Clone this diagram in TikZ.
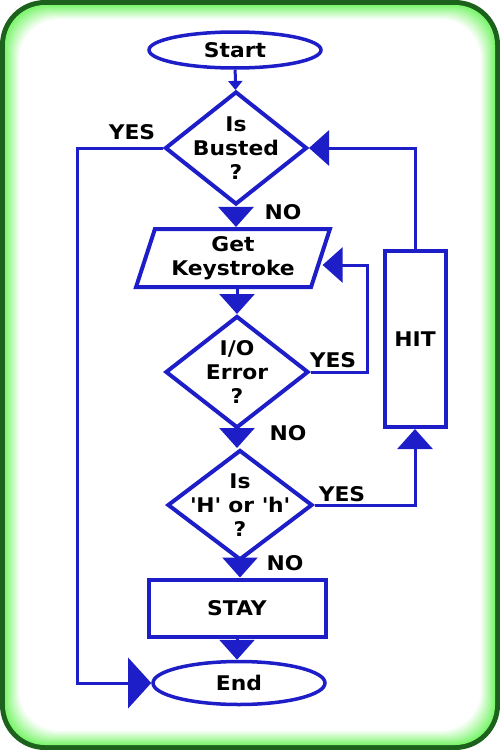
\documentclass[tikz,border=0pt]{standalone}
\usepackage{fontspec}
\setmainfont{DejaVu Sans}[FakeStretch=1.08]
\usetikzlibrary{arrows.meta,shapes.geometric}
\definecolor{fcblue}{RGB}{30,30,200}
\definecolor{framedark}{RGB}{28,98,28}
\definecolor{framelight}{RGB}{125,245,110}

\begin{document}
\begin{tikzpicture}[
    x=0.2mm, y=-0.2mm,
    every node/.style={font=\fontsize{11.5}{13.6}\selectfont\bfseries, text=black},
    term/.style={ellipse, draw=fcblue, line width=0.7mm, inner sep=0pt, minimum width=34.4mm},
    decision/.style={diamond, draw=fcblue, line width=0.8mm, inner sep=-12pt, align=center},
    io/.style={trapezium, trapezium left angle=71, trapezium right angle=109, trapezium stretches=true, draw=fcblue, line width=0.8mm, inner sep=0pt, align=center, minimum width=39mm, minimum height=11.6mm},
    process/.style={rectangle, draw=fcblue, line width=0.8mm, align=center},
    tag/.style={inner sep=1pt},
    flow/.style={-{Triangle[length=4mm, width=7mm]}, line width=0.6mm, fcblue},
    smallflow/.style={-{Triangle[length=1.8mm, width=2.8mm]}, line width=0.6mm, fcblue},
    bigflow/.style={-{Triangle[length=4.6mm, width=10mm]}, line width=0.6mm, fcblue}
  ]
    % frame with green glow
    \fill[framedark, rounded corners=9mm] (0,0) rectangle (500,750);
    \foreach \i in {0,...,14}{
      \pgfmathsetmacro\inset{5+\i}
      \pgfmathtruncatemacro\mix{100-\i*7}
      \fill[framelight!\mix!white, rounded corners=8mm] (\inset,\inset) rectangle (500-\inset,750-\inset);
    }
    \fill[white, rounded corners=8mm] (20,20) rectangle (480,730);

    % main column
    \node[term, minimum height=7.2mm] (start) at (235,50) {Start};
    \node[decision, minimum width=28.4mm, minimum height=22.6mm] (busted) at (236,148) {Is\\Busted\\?};
    \node[io] (keys) at (233,258) {Get\\Keystroke};
    \node[decision, minimum width=28.6mm, minimum height=22.4mm] (ioerr) at (237,372) {I/O\\Error\\?};
    \node[decision, minimum width=29mm, minimum height=22mm] (hork) at (240,505) {Is\\\textquotesingle H\textquotesingle{} or \textquotesingle h\textquotesingle\\?};
    \node[process, minimum width=35.4mm, minimum height=11.4mm] (stay) at (237,608) {STAY};
    \node[term, minimum height=8.6mm] (end) at (239,683) {End};
    \node[process, minimum width=12.2mm, minimum height=35.2mm] (hit) at (415,339) {HIT};

    % answers
    \node[tag] (yes1) at (132,132) {YES};
    \node[tag] (no1) at (283,212) {NO};
    \node[tag] (yes2) at (333,360) {YES};
    \node[tag] (no2) at (288,433) {NO};
    \node[tag] (yes3) at (342,494) {YES};
    \node[tag] (no3) at (285,563) {NO};

    \draw[smallflow] (start) -- (busted);
    \draw[flow] (busted.south) -- (busted.south |- keys.north);
    \draw[flow] (ioerr.north |- keys.south) -- (ioerr.north);
    \draw[flow] (ioerr.south) -- (ioerr.south |- hork.north);
    \draw[flow] (hork.south) -- (hork.south |- stay.north);
    \draw[flow] (stay.south) -- (stay.south |- end.north);

    \draw[bigflow] (busted.west) -- ++(-85,0) |- (end.west);
    \draw[flow] (ioerr.east) -- ++(57,0) |- ([yshift=-1.4mm]keys.east);
    \draw[flow] (hork.east) -| (hit.south);
    \draw[flow] (hit.north) |- (busted.east);
\end{tikzpicture}
\end{document}
